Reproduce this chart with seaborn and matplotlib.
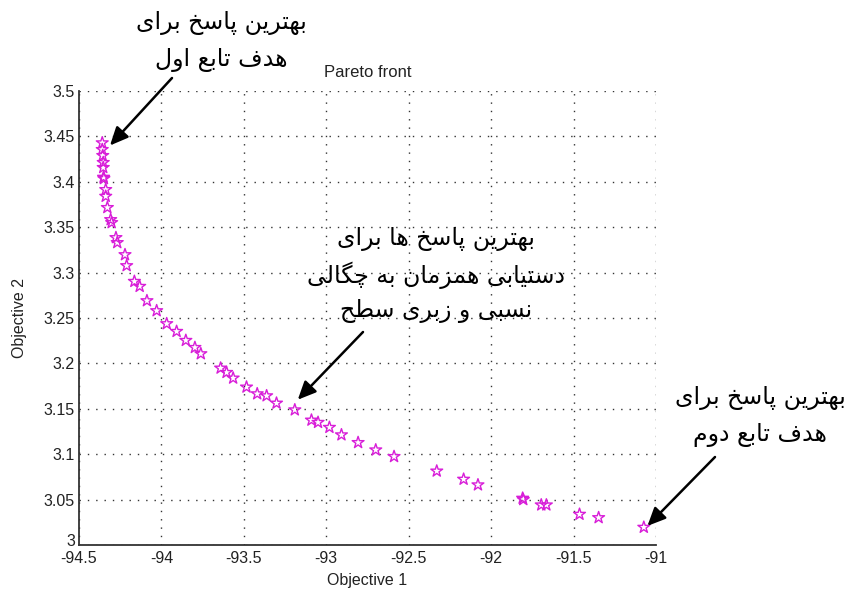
import matplotlib
matplotlib.use("Agg")
import matplotlib.pyplot as plt
import matplotlib.transforms as mtransforms
import seaborn as sns
import pandas as pd

# Pareto-optimal solutions (objective 1, objective 2)
obj1 = [-94.359, -94.359, -94.356, -94.353, -94.353, -94.351, -94.349,
        -94.338, -94.338, -94.328, -94.308, -94.302, -94.276, -94.268,
        -94.221, -94.211, -94.164, -94.132, -94.088, -94.029, -93.968,
        -93.908, -93.852, -93.797, -93.761, -93.641, -93.605, -93.565,
        -93.484, -93.419, -93.362, -93.302, -93.191, -93.090, -93.050,
        -92.981, -92.908, -92.807, -92.700, -92.589, -92.330, -92.167,
        -92.080, -91.809, -91.805, -91.696, -91.665, -91.464, -91.348,
        -91.074]
obj2 = [3.4429, 3.4355, 3.4289, 3.4212, 3.4157, 3.4050, 3.4035,
        3.3914, 3.3840, 3.3716, 3.3583, 3.3550, 3.3385, 3.3330,
        3.3197, 3.3076, 3.2903, 3.2848, 3.2690, 3.2580, 3.2437,
        3.2352, 3.2253, 3.2175, 3.2106, 3.1948, 3.1900, 3.1838,
        3.1739, 3.1665, 3.1643, 3.1562, 3.1488, 3.1375, 3.1350,
        3.1295, 3.1213, 3.1128, 3.1047, 3.0974, 3.0814, 3.0724,
        3.0662, 3.0515, 3.0500, 3.0441, 3.0441, 3.0338, 3.0301,
        3.0195]

x_ticks = [-94.5, -94.0, -93.5, -93.0, -92.5, -92.0, -91.5, -91.0]
x_tick_labels = ["-94.5", "-94", "-93.5", "-93", "-92.5", "-92", "-91.5", "-91"]
y_ticks = [3.0, 3.05, 3.1, 3.15, 3.2, 3.25, 3.3, 3.35, 3.4, 3.45, 3.5]
y_tick_labels = ["3", "3.05", "3.1", "3.15", "3.2", "3.25", "3.3", "3.35",
                 "3.4", "3.45", "3.5"]

note_first = ["بهترین پاسخ برای", "هدف تابع اول"]
note_middle = ["بهترین پاسخ ها برای", "دستیابی همزمان به چگالی", "نسبی و زبری سطح"]
note_second = ["بهترین پاسخ برای", "هدف تابع دوم"]

# --- minimal Arabic-script shaping (contextual forms + right-to-left order) ---
# letter: (isolated, final, initial, medial); two entries -> right-joining only
FORMS = {
    "ا": (0xFE8D, 0xFE8E), "د": (0xFEA9, 0xFEAA), "ر": (0xFEAD, 0xFEAE),
    "ز": (0xFEAF, 0xFEB0), "و": (0xFEED, 0xFEEE),
    "ب": (0xFE8F, 0xFE90, 0xFE91, 0xFE92), "پ": (0xFB56, 0xFB57, 0xFB58, 0xFB59),
    "ت": (0xFE95, 0xFE96, 0xFE97, 0xFE98), "ح": (0xFEA1, 0xFEA2, 0xFEA3, 0xFEA4),
    "خ": (0xFEA5, 0xFEA6, 0xFEA7, 0xFEA8), "چ": (0xFB7A, 0xFB7B, 0xFB7C, 0xFB7D),
    "س": (0xFEB1, 0xFEB2, 0xFEB3, 0xFEB4), "ط": (0xFEC1, 0xFEC2, 0xFEC3, 0xFEC4),
    "ع": (0xFEC9, 0xFECA, 0xFECB, 0xFECC), "ف": (0xFED1, 0xFED2, 0xFED3, 0xFED4),
    "گ": (0xFB92, 0xFB93, 0xFB94, 0xFB95), "ل": (0xFEDD, 0xFEDE, 0xFEDF, 0xFEE0),
    "م": (0xFEE1, 0xFEE2, 0xFEE3, 0xFEE4), "ن": (0xFEE5, 0xFEE6, 0xFEE7, 0xFEE8),
    "ه": (0xFEE9, 0xFEEA, 0xFEEB, 0xFEEC), "ی": (0xFBFC, 0xFBFD, 0xFBFE, 0xFBFF),
}


def shape(text):
    out = []
    n = len(text)
    for i, ch in enumerate(text):
        if ch not in FORMS:
            out.append(ch)
            continue
        f = FORMS[ch]
        prev = text[i - 1] if i > 0 else None
        nxt = text[i + 1] if i < n - 1 else None
        join_prev = prev in FORMS and len(FORMS[prev]) == 4
        join_next = len(f) == 4 and nxt in FORMS
        if join_prev and join_next:
            out.append(chr(f[3]))
        elif join_prev:
            out.append(chr(f[1]))
        elif join_next:
            out.append(chr(f[2]))
        else:
            out.append(chr(f[0]))
    return "".join(reversed(out))


sns.set_style("white")
plt.rcParams["font.family"] = ["Liberation Sans", "DejaVu Sans"]
plt.rcParams["axes.unicode_minus"] = False

fig = plt.figure(figsize=(8.5, 5.97), dpi=100)
ax = fig.add_axes([79 / 850, 1 - 545 / 597, 577 / 850, 454 / 597])

df = pd.DataFrame({"Objective 1": obj1, "Objective 2": obj2})
sns.scatterplot(data=df, x="Objective 1", y="Objective 2", marker="*", s=80,
                ax=ax, zorder=3)
pts = ax.collections[0]
pts.set_facecolor("none")
pts.set_edgecolor("#d81ed8")
pts.set_linewidth(1.0)

ax.set_xlim(-94.5, -91.0)
ax.set_ylim(3.0, 3.5)
ax.set_xticks(x_ticks, x_tick_labels)
ax.set_yticks(y_ticks, y_tick_labels)
ax.tick_params(direction="in", length=6, width=1, colors="#222222",
               labelsize=11.5, labelcolor="#222222", pad=3)
ax.tick_params(axis="x", pad=4)
# lift the bottom y label a little so it clears the first x label
lift = mtransforms.ScaledTranslation(0, 5 / 100, fig.dpi_scale_trans)
first = ax.get_yticklabels()[0]
first.set_transform(first.get_transform() + lift)

ax.grid(True, color="#333333", linestyle=(0, (1, 5)), linewidth=1.0)
for side in ("top", "right"):
    ax.spines[side].set_visible(False)
for side in ("left", "bottom"):
    ax.spines[side].set_color("#333333")
    ax.spines[side].set_linewidth(1.3)

ax.set_xlabel("Objective 1", fontsize=11.5, color="#222222", labelpad=5)
ax.set_ylabel("Objective 2", fontsize=11.5, color="#222222", labelpad=12)
ax.set_title("Pareto front", fontsize=12, color="#222222", pad=10)

fa_font = dict(family=["DejaVu Sans"], fontsize=17, color="black",
               ha="center", va="center")


def note(lines, cx, cy_list):
    for line, cy in zip(lines, cy_list):
        fig.text(cx / 850, 1 - cy / 597, shape(line), **fa_font)


note(note_first, 221, [23, 60])
note(note_middle, 436, [239, 275, 311])
note(note_second, 760, [398, 435])

arrow = dict(arrowstyle="-|>,head_length=1.1,head_width=0.5", color="black",
             lw=1.8, shrinkA=0, shrinkB=0)
for tip, tail in [((-94.312, 3.440), (172, 78)),
                  ((-93.173, 3.160), (363, 332)),
                  ((-91.052, 3.021), (715, 457))]:
    ax.annotate("", xy=tip, xycoords="data",
                xytext=(tail[0] / 850, 1 - tail[1] / 597),
                textcoords="figure fraction", arrowprops=arrow,
                annotation_clip=False)

fig.savefig("out.png", dpi=100)
